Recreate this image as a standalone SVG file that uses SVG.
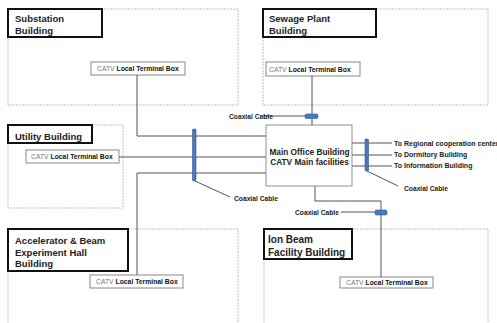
<svg xmlns="http://www.w3.org/2000/svg" width="497" height="323" viewBox="0 0 497 323">
<style>
.bld{fill:#fff;stroke:#b0b0b0;stroke-width:0.8;stroke-dasharray:2,1}
.ttl{fill:#fff;stroke:#111;stroke-width:2}
.tt{font-family:"Liberation Sans",Arial,sans-serif;font-weight:bold;font-size:9.5px;fill:#222}
.tb{fill:#fff;stroke:#888;stroke-width:1}
.tbt{font-family:"Liberation Sans",Arial,sans-serif;font-size:6.8px;fill:#111;font-weight:bold}
.catv{font-weight:normal;fill:#777}
.ln{fill:none;stroke:#555;stroke-width:1}
.cap{fill:#4a78b8;stroke:#2f5a94;stroke-width:0.6}
.lbl{font-family:"Liberation Sans",Arial,sans-serif;font-weight:bold;font-size:6.7px;fill:#222}
.main{font-family:"Liberation Sans",Arial,sans-serif;font-weight:bold;font-size:8.3px;fill:#222}
</style>
<rect width="497" height="323" fill="#fff"/>
<g id="substation">
<rect class="bld" x="8" y="9" width="230" height="96"/>
<rect class="ttl" x="8" y="9" width="94" height="28"/>
<text class="tt" x="15" y="21.5">Substation</text>
<text class="tt" x="15" y="33.5">Building</text>
<rect class="tb" x="91" y="62" width="94" height="13"/>
<text class="tbt" x="97" y="71"><tspan class="catv">CATV</tspan> Local Terminal Box</text>
</g>
<g id="sewage">
<rect class="bld" x="263" y="9" width="225" height="96"/>
<rect class="ttl" x="263" y="9" width="113" height="28"/>
<text class="tt" x="269" y="21.5">Sewage Plant</text>
<text class="tt" x="269" y="33.5">Building</text>
<rect class="tb" x="266" y="62" width="94" height="14"/>
<text class="tbt" x="269" y="71.5"><tspan class="catv">CATV</tspan> Local Terminal Box</text>
</g>
<g id="utility">
<rect class="bld" x="8" y="125" width="115" height="83"/>
<rect class="ttl" x="8" y="125" width="84" height="18"/>
<text class="tt" x="15" y="139.5">Utility Building</text>
<rect class="tb" x="26" y="150" width="93" height="13"/>
<text class="tbt" x="31" y="159"><tspan class="catv">CATV</tspan> Local Terminal Box</text>
</g>
<g id="accelerator">
<rect class="bld" x="8" y="229" width="230" height="110"/>
<rect class="ttl" x="8" y="229" width="120" height="42"/>
<text class="tt" x="15" y="243.5">Accelerator &amp; Beam</text>
<text class="tt" x="15" y="255.5">Experiment Hall</text>
<text class="tt" x="15" y="266.5">Building</text>
<rect class="tb" x="90" y="275" width="93" height="13"/>
<text class="tbt" x="96" y="284"><tspan class="catv">CATV</tspan> Local Terminal Box</text>
</g>
<g id="ionbeam">
<rect class="bld" x="264" y="229" width="224" height="110"/>
<rect class="ttl" x="264" y="229" width="88" height="30"/>
<text class="tt" x="268" y="242.5" style="font-size:10px">Ion Beam</text>
<text class="tt" x="268" y="255.5" style="font-size:10px">Facility Building</text>
<rect class="tb" x="340" y="277" width="93" height="11"/>
<text class="tbt" x="346" y="285"><tspan class="catv">CATV</tspan> Local Terminal Box</text>
</g>
<g id="connectors">
<path class="ln" d="M137 75 V136 H266"/>
<path class="ln" d="M119 157 H266"/>
<path class="ln" d="M137 275 V173 H266"/>
<path class="ln" d="M312 76 V125"/>
<path class="ln" d="M263 116 H305"/>
<path class="ln" d="M315 186 V201 H381 V277"/>
<path class="ln" d="M341 212 H375"/>
<path class="ln" d="M352 143 H392 M352 155 H392 M352 166 H392"/>
<path class="ln" d="M367 171 L398 186"/>
<path class="ln" d="M195 181 L230 197"/>
<rect class="cap" x="192.5" y="129" width="3.5" height="52" rx="1"/>
<rect class="cap" x="365" y="139" width="3.5" height="32" rx="1"/>
<rect class="cap" x="305" y="114" width="13" height="4.5" rx="1.5"/>
<rect class="cap" x="375" y="210" width="12" height="5" rx="1.5"/>
</g>
<g id="main">
<rect fill="#fff" stroke="#777" stroke-width="0.8" x="266" y="125" width="86" height="61"/>
<text class="main" x="309.5" y="155" text-anchor="middle">Main Office Building</text>
<text class="main" x="309.5" y="165" text-anchor="middle">CATV Main facilities</text>
</g>
<g id="labels">
<text class="lbl" x="229" y="118.5">Coaxial Cable</text>
<text class="lbl" x="234" y="200.5">Coaxial Cable</text>
<text class="lbl" x="295" y="214.5">Coaxial Cable</text>
<text class="lbl" x="404" y="190.5">Coaxial Cable</text>
<text class="lbl" x="394" y="145.5" style="font-size:7px">To Regional cooperation center</text>
<text class="lbl" x="394" y="157" style="font-size:7px">To Dormitory Building</text>
<text class="lbl" x="394" y="168" style="font-size:7px">To Information Building</text>
</g>
</svg>
